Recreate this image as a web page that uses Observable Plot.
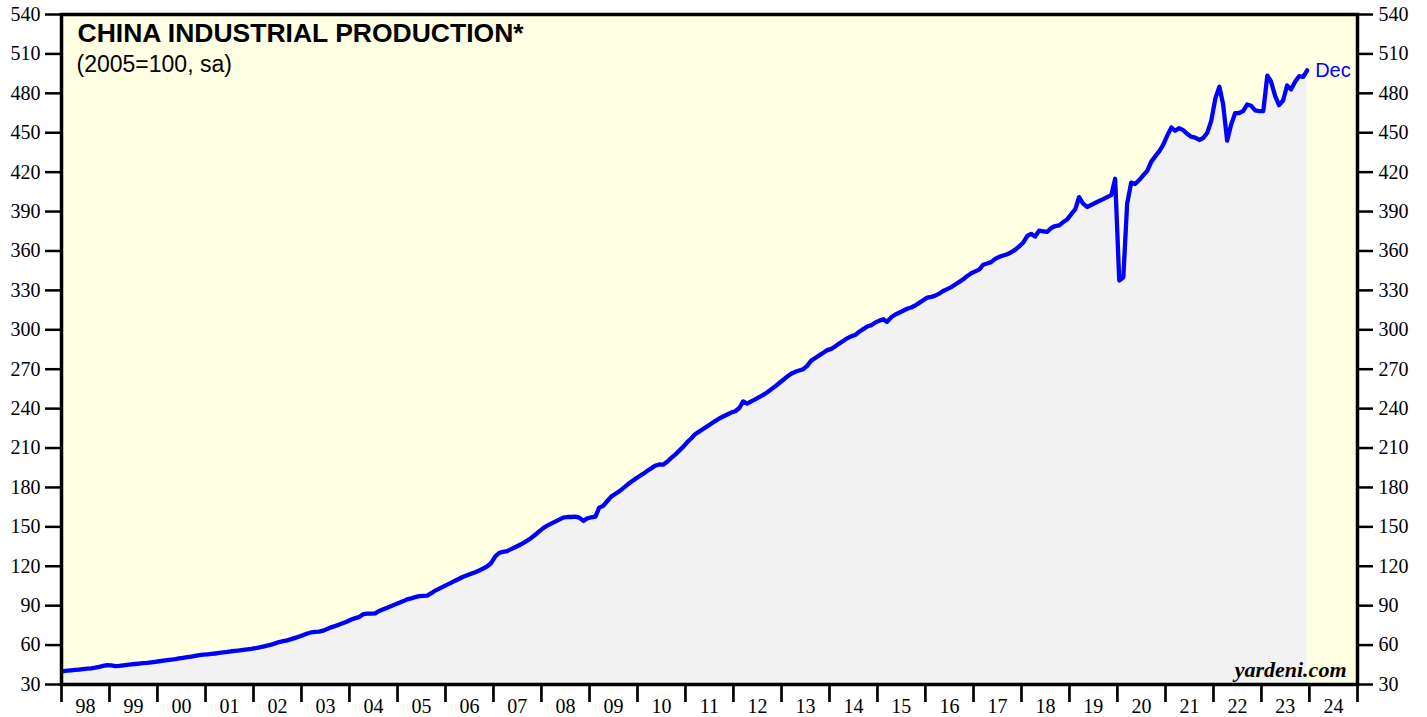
<!DOCTYPE html>
<html>
<head>
<meta charset="utf-8">
<script src="https://cdn.jsdelivr.net/npm/d3@7"></script>
<script src="https://cdn.jsdelivr.net/npm/@observablehq/plot@0.6"></script>
<style>
  html, body { margin: 0; padding: 0; background: #ffffff; }
  #chart { width: 1427px; height: 717px; overflow: hidden; }
</style>
</head>
<body>
<div id="chart"></div>
<script>
// China industrial production, monthly, Jan 1998 .. Dec 2023 (2005=100, sa)
const startYear = 1998;
const ipValues = [
  40.2, 40.5, 40.8, 41.1, 41.4, 41.7, 42.0, 42.3, 42.8, 43.4, 44.2, 44.8,      // 1998
  44.5, 44.0, 44.2, 44.6, 45.0, 45.3, 45.6, 45.9, 46.2, 46.5, 46.9, 47.3,      // 1999
  47.7, 48.1, 48.5, 48.9, 49.3, 49.8, 50.3, 50.8, 51.3, 51.8, 52.3, 52.7,      // 2000
  53.0, 53.3, 53.6, 54.0, 54.4, 54.8, 55.3, 55.6, 55.9, 56.3, 56.7, 57.1,      // 2001
  57.6, 58.2, 58.9, 59.6, 60.4, 61.3, 62.3, 63.0, 63.6, 64.5, 65.5, 66.5,      // 2002
  67.6, 68.8, 69.6, 70.0, 70.3, 71.0, 72.2, 73.5, 74.6, 75.6, 76.8, 78.0,      // 2003
  79.5, 80.5, 81.3, 83.5, 84.0, 84.0, 84.2, 86.0, 87.3, 88.5, 89.7, 91.0,      // 2004
  92.2, 93.5, 94.8, 95.6, 96.5, 97.2, 97.4, 97.6, 99.5, 101.5, 103.0, 104.5,   // 2005
  106.0, 107.5, 109.0, 110.5, 112.0, 113.2, 114.3, 115.5, 116.8, 118.3, 120.0, 122.5, // 2006
  127.5, 130.3, 131.0, 131.5, 133.0, 134.5, 136.0, 137.6, 139.5, 141.5, 144.0, 146.5, // 2007
  149.0, 151.0, 152.5, 154.0, 155.5, 157.0, 157.5, 157.5, 157.8, 157.0, 154.5, 156.5, // 2008
  157.3, 157.8, 164.5, 166.0, 169.5, 173.0, 175.0, 177.0, 179.5, 182.0, 184.3, 186.5, // 2009
  188.5, 190.5, 192.5, 194.5, 196.5, 197.5, 197.3, 199.5, 202.5, 205.0, 208.0, 211.0, // 2010
  214.5, 217.5, 220.5, 222.5, 224.5, 226.5, 228.5, 230.5, 232.5, 234.0, 235.5, 237.0, // 2011
  238.0, 240.5, 245.5, 243.8, 245.5, 247.0, 248.8, 250.5, 252.5, 254.8, 257.0, 259.5, // 2012
  262.0, 264.5, 266.5, 268.0, 269.0, 270.0, 272.5, 276.5, 278.5, 280.5, 282.5, 284.5, // 2013
  285.5, 287.5, 289.5, 291.5, 293.5, 295.0, 296.0, 298.5, 300.5, 302.5, 303.5, 305.5, // 2014
  307.0, 308.0, 306.0, 309.5, 311.5, 313.0, 314.5, 316.0, 317.0, 318.5, 320.5, 322.5, // 2015
  324.5, 325.0, 326.0, 327.5, 329.5, 331.0, 332.5, 334.5, 336.5, 338.5, 341.0, 343.0, // 2016
  344.5, 346.0, 349.5, 350.5, 351.5, 354.0, 355.5, 356.5, 357.5, 359.0, 361.0, 363.5, // 2017
  366.5, 371.5, 373.0, 371.0, 375.5, 375.0, 374.5, 377.5, 379.0, 379.5, 382.0, 384.0, // 2018
  388.0, 391.8, 401.0, 396.0, 393.5, 395.0, 396.5, 398.0, 399.5, 401.0, 402.5, 415.0, // 2019
  337.5, 340.0, 396.0, 412.0, 411.0, 414.0, 417.5, 421.0, 428.0, 432.0, 436.0, 441.0, // 2020
  448.0, 454.0, 451.5, 453.5, 452.0, 449.2, 447.0, 446.3, 444.5, 446.0, 450.0, 459.0, // 2021
  476.0, 485.0, 472.0, 444.0, 456.0, 465.0, 465.0, 466.5, 471.5, 470.5, 467.0, 466.5, // 2022
  466.5, 493.5, 489.0, 478.0, 471.0, 474.5, 486.0, 483.0, 489.0, 493.0, 492.5, 497.5  // 2023
];
const yTicks = [30, 60, 90, 120, 150, 180, 210, 240, 270, 300, 330, 360, 390, 420, 450, 480, 510, 540];
const yearLabels = ["98","99","00","01","02","03","04","05","06","07","08","09","10","11","12","13","14","15","16","17","18","19","20","21","22","23","24"];
const titleText = "CHINA INDUSTRIAL PRODUCTION*";
const subtitleText = "(2005=100, sa)";
const sourceText = "yardeni.com";
const lastLabel = "Dec";

const data = ipValues.map((v, i) => ({ date: new Date(Date.UTC(startYear, i, 15)), value: v }));
const yearBounds = d3.range(startYear, startYear + yearLabels.length + 1).map(y => new Date(Date.UTC(y, 0, 1)));
const yearMids = yearLabels.map((_, i) => new Date(Date.UTC(startYear + i, 6, 2)));
const last = data[data.length - 1];

const serif = "'Liberation Serif', 'Times New Roman', serif";
const sans = "'Liberation Sans', Arial, Helvetica, sans-serif";

const chart = Plot.plot({
  width: 1427,
  height: 717,
  marginLeft: 61,
  marginRight: 70,
  marginTop: 14,
  marginBottom: 33,
  style: { fontFamily: serif, fontSize: "20px", background: "#ffffff", color: "#000" },
  x: { type: "utc", domain: [yearBounds[0], yearBounds[yearBounds.length - 1]] },
  y: { domain: [30, 540] },
  marks: [
    Plot.frame({ fill: "#ffffe3", stroke: null }),
    Plot.areaY(data, { x: "date", y1: 30, y2: "value", fill: "#f2f2f2" }),
    Plot.lineY(data, { x: "date", y: "value", stroke: "#0000ff", strokeWidth: 4.3, strokeLinejoin: "round", strokeLinecap: "round" }),
    Plot.frame({ stroke: "#000", strokeWidth: 3.5 }),
    Plot.axisY({ anchor: "left", ticks: yTicks, tickSize: 16, tickPadding: 5, strokeWidth: 2.5, fontSize: 20, fontFamily: serif, label: null }),
    Plot.axisY({ anchor: "right", ticks: yTicks, tickSize: 15, tickPadding: 6, strokeWidth: 2.5, fontSize: 20, fontFamily: serif, label: null }),
    Plot.axisX({ ticks: yearBounds, tickSize: 18, tickFormat: () => "", strokeWidth: 2.7, label: null }),
    Plot.axisX({ ticks: yearMids, tickSize: 0, tickPadding: 14, tickFormat: (d, i) => yearLabels[i], fontSize: 20, fontFamily: serif, label: null }),
    Plot.text([titleText], { frameAnchor: "top-left", dx: 16, dy: 9, lineAnchor: "top", textAnchor: "start", fontSize: 26.5, fontWeight: "bold", fontFamily: sans, fill: "#000" }),
    Plot.text([subtitleText], { frameAnchor: "top-left", dx: 15, dy: 41, lineAnchor: "top", textAnchor: "start", fontSize: 23, fontFamily: sans, fill: "#000" }),
    Plot.text([sourceText], { frameAnchor: "bottom-right", dx: -11, dy: -23, lineAnchor: "top", textAnchor: "end", fontSize: 22, fontWeight: "bold", fontStyle: "italic", fontFamily: serif, fill: "#000" }),
    Plot.text([last], { x: "date", y: "value", text: () => lastLabel, dx: 8, textAnchor: "start", lineAnchor: "middle", fontSize: 20, fontFamily: sans, fill: "#0000ff" })
  ]
});
document.getElementById("chart").appendChild(chart);
</script>
</body>
</html>
